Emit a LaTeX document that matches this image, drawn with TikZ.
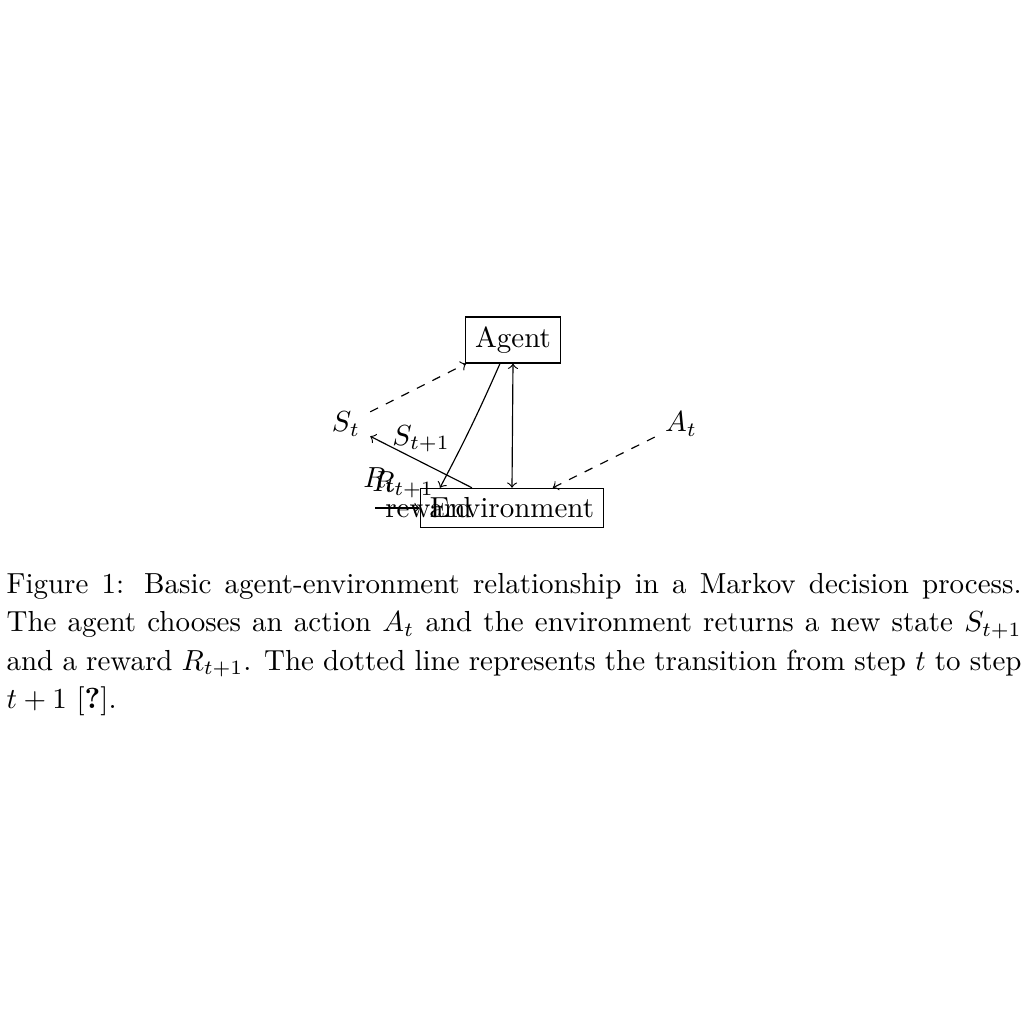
\documentclass[tikz,border=0pt]{standalone}
\usepackage{amsmath}
\usepackage{amssymb}
\usepackage{tikz}
\tikzset{block/.style={draw, rectangle}}

\begin{document}
\begin{tikzpicture}
        \useasboundingbox (0,0) rectangle (12.41,12.41);
        \node[block] (agent) at (6.217,8.289) {Agent};
        \node[block] (env) at (6.205,6.253) {Environment};
        \node (st) at (4.193,7.271) {$ S_t $};
        \node (at) at (8.253,7.271) {$ A_t $};
        \node (rt) at (4.600,6.590) {$ R_t $};
        \coordinate (rin) at (4.545,6.253);
        \node[right] (rew) at (rin) {reward};
        
        \draw[dashed,->] (st)--(agent);
        \draw[dashed,->] (at)--(env);
        \draw[->] ([xshift=-0.158cm]agent.south) to[bend left=2] ([xshift=-0.873cm]env.north);
        \draw[<->] (agent.south)--(env.north);
        \draw[->] (env)--node[above,midway] (snext) {$ S_{t+1} $}(st);
        \draw[->] (rin)--node[above,midway,xshift=0.07cm] (rnext) {$ R_{t+1} $}(env);
        
        \node[anchor=north west, text width=350pt, align=justify, inner sep=0pt, font={\linespread{1.1}\selectfont}] (cap) at (0.073,5.466) {\noindent Figure 1: Basic agent-environment relationship in a Markov decision process. The agent chooses an action $A_t$ and the environment returns a new state $S_{t+1}$ and a reward $R_{t+1}$. The dotted line represents the transition from step $t$ to step $t+1$ [\textbf{?}].};
\end{tikzpicture}
\end{document}
